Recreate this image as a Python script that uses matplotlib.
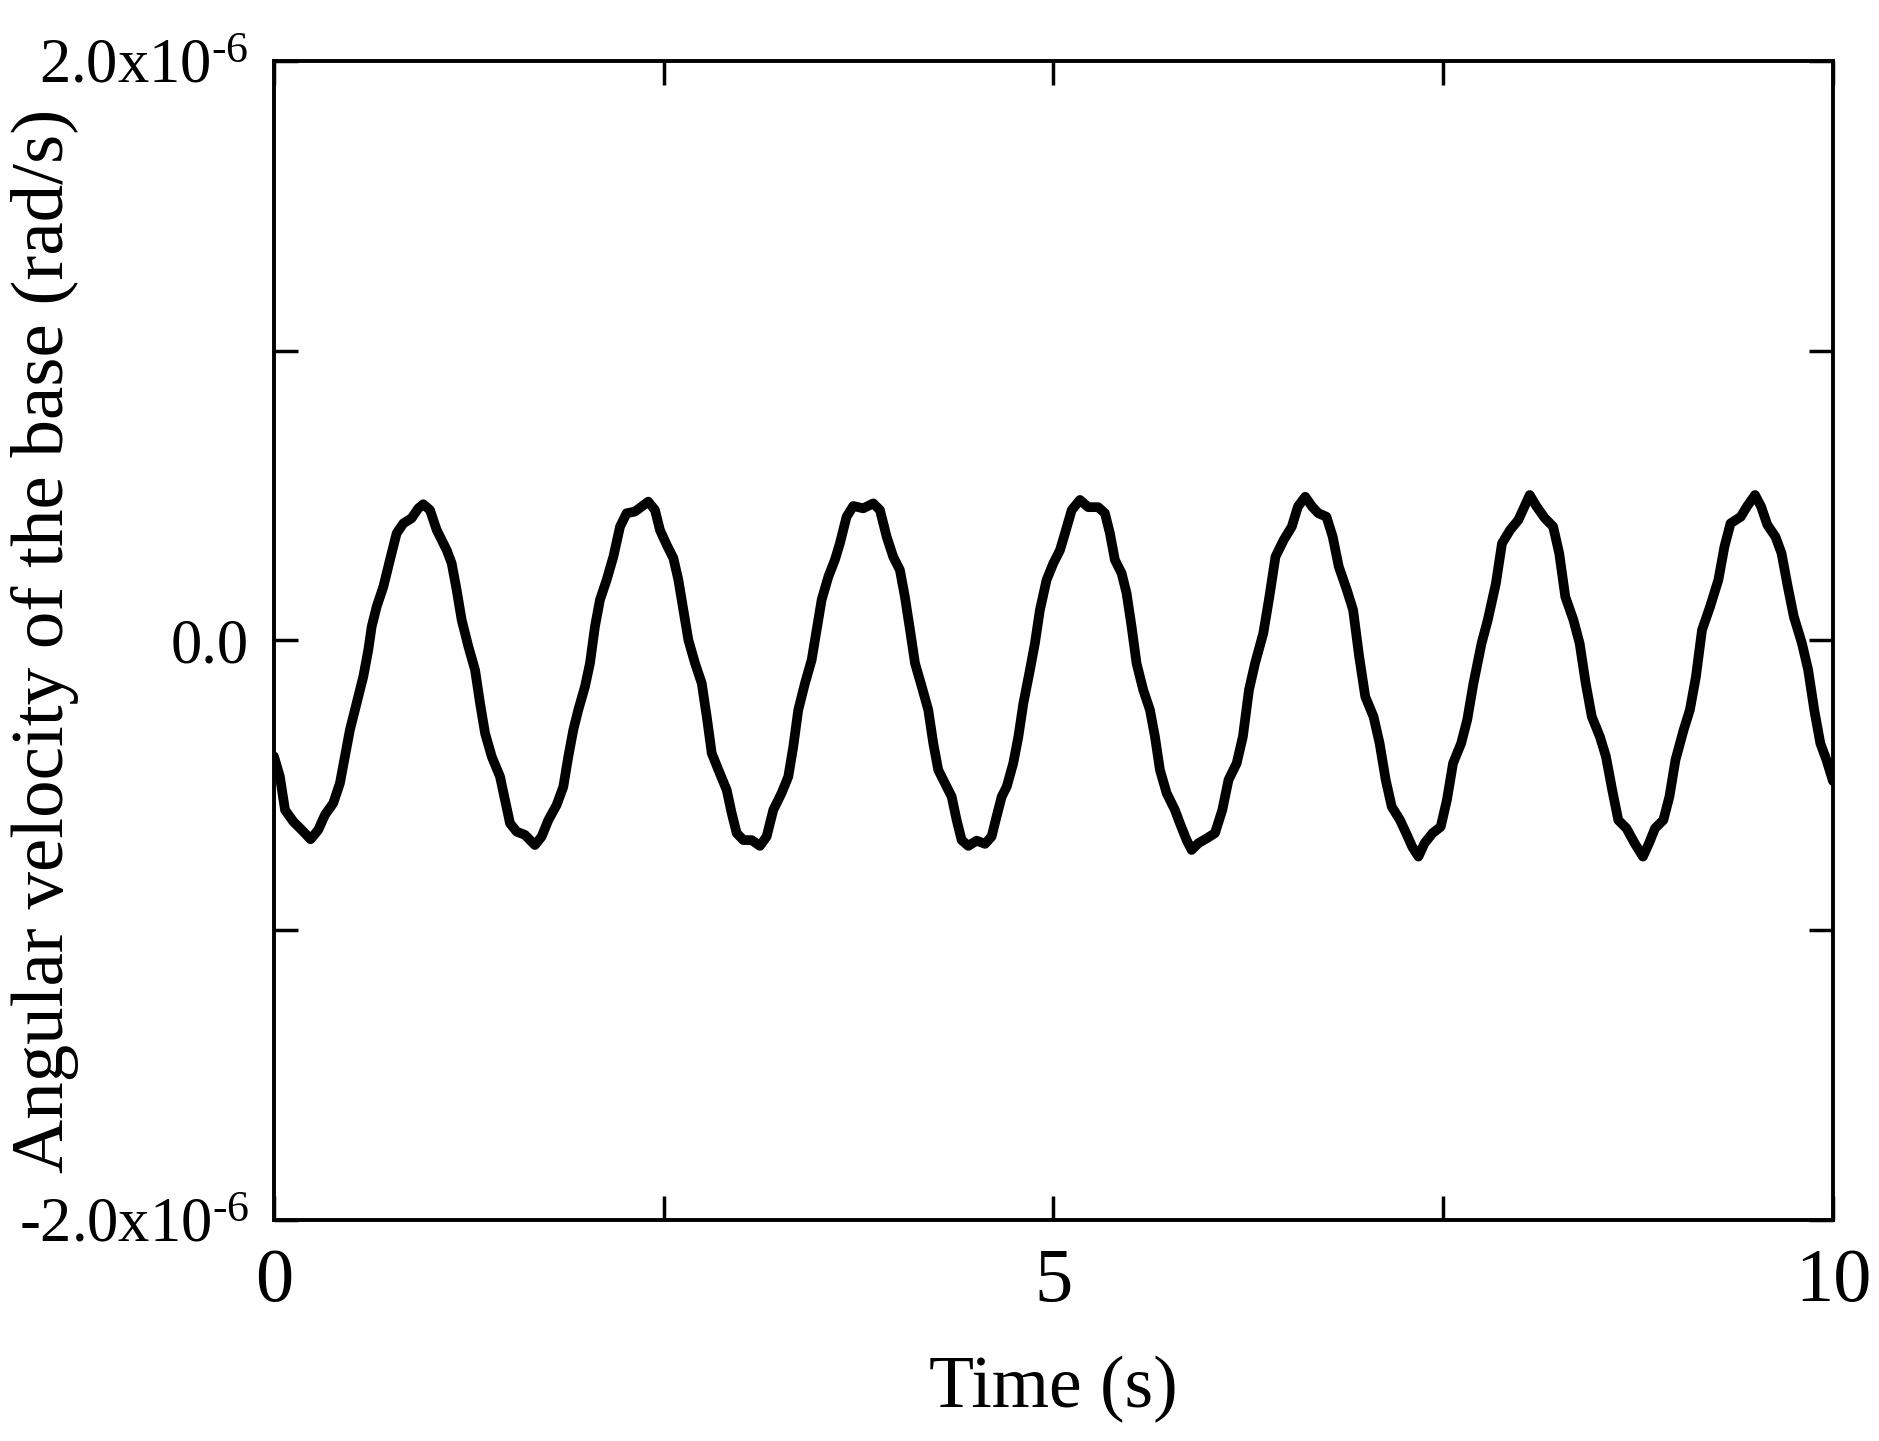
import numpy as np
import matplotlib
matplotlib.use('Agg')
import matplotlib.pyplot as plt

plt.rcParams['font.family'] = ['Liberation Serif', 'DejaVu Serif']
plt.rcParams['mathtext.fontset'] = 'custom'
plt.rcParams['mathtext.rm'] = 'Liberation Serif'
plt.rcParams['mathtext.default'] = 'regular'

# ── data (time in s, angular velocity in 1e-6 rad/s) ──
time_s = [
    0.000, 0.038, 0.071, 0.124, 0.178, 0.235, 0.284, 0.327, 0.380, 0.423,
    0.455, 0.487, 0.530, 0.573, 0.605, 0.627, 0.659, 0.702, 0.744, 0.787,
    0.830, 0.883, 0.926, 0.958, 1.001, 1.044, 1.108, 1.140, 1.172, 1.204,
    1.247, 1.290, 1.322, 1.354, 1.397, 1.450, 1.482, 1.514, 1.557, 1.610,
    1.674, 1.717, 1.760, 1.813, 1.856, 1.888, 1.920, 1.952, 1.995, 2.027,
    2.059, 2.091, 2.134, 2.177, 2.220, 2.262, 2.316, 2.359, 2.401, 2.444,
    2.476, 2.519, 2.562, 2.594, 2.626, 2.658, 2.701, 2.744, 2.776, 2.808,
    2.851, 2.904, 2.936, 2.968, 3.011,
    3.064, 3.117, 3.160, 3.203, 3.256, 3.299, 3.331, 3.363, 3.406, 3.449,
    3.481, 3.513, 3.556, 3.598, 3.630, 3.673, 3.716, 3.780, 3.844, 3.887,
    3.930, 3.972, 4.015, 4.047, 4.080, 4.112, 4.155, 4.197, 4.229, 4.261,
    4.304, 4.347, 4.379, 4.411, 4.454, 4.507, 4.561, 4.603, 4.635, 4.668,
    4.700, 4.742, 4.775, 4.807, 4.849, 4.881, 4.913, 4.956, 4.999, 5.042,
    5.074, 5.117, 5.170, 5.223, 5.287, 5.330, 5.362, 5.394, 5.437, 5.469,
    5.501, 5.533, 5.576, 5.619, 5.651, 5.683, 5.726, 5.779, 5.811, 5.854,
    5.886, 5.929, 5.983, 6.036,
    6.083, 6.123, 6.175, 6.215, 6.254, 6.293, 6.346, 6.385, 6.424, 6.477,
    6.529, 6.568, 6.615, 6.659, 6.699, 6.751, 6.791, 6.830, 6.882, 6.922,
    6.961, 7.000, 7.053, 7.092, 7.131, 7.170, 7.223, 7.262, 7.301, 7.341,
    7.380, 7.432, 7.484, 7.524, 7.563, 7.615, 7.654, 7.694, 7.746, 7.786,
    7.838, 7.877, 7.929, 7.982, 8.021, 8.055, 8.099, 8.152, 8.205, 8.244,
    8.283, 8.335, 8.375, 8.414, 8.453, 8.505, 8.544, 8.584, 8.623, 8.675,
    8.728, 8.781, 8.820, 8.859, 8.912, 8.951, 8.990, 9.042, 9.082, 9.121,
    9.160, 9.212, 9.265, 9.304, 9.343, 9.409, 9.448, 9.500, 9.539, 9.579,
    9.631, 9.670, 9.710, 9.749, 9.801, 9.841, 9.880, 9.919, 9.958, 10.000,
]
omega_e6 = [
    -0.400, -0.470, -0.585, -0.625, -0.654, -0.686, -0.654, -0.602, -0.562, -0.493,
    -0.401, -0.309, -0.217, -0.125, -0.033, 0.048, 0.117, 0.186, 0.278, 0.370,
    0.404, 0.422, 0.456, 0.470, 0.450, 0.381, 0.312, 0.266, 0.174, 0.071,
    -0.021, -0.102, -0.217, -0.320, -0.401, -0.470, -0.550, -0.631, -0.660, -0.671,
    -0.706, -0.677, -0.620, -0.568, -0.505, -0.401, -0.309, -0.240, -0.159, -0.079,
    0.048, 0.140, 0.209, 0.289, 0.393, 0.439, 0.445, 0.462, 0.479, 0.450,
    0.381, 0.330, 0.284, 0.209, 0.105, 0.002, -0.079, -0.148, -0.263, -0.389,
    -0.447, -0.516, -0.596, -0.665, -0.689,
    -0.689, -0.709, -0.677, -0.585, -0.527, -0.470, -0.367, -0.240, -0.148, -0.067,
    0.036, 0.140, 0.220, 0.278, 0.335, 0.427, 0.464, 0.456, 0.473, 0.450,
    0.358, 0.289, 0.243, 0.151, 0.036, -0.079, -0.159, -0.240, -0.355, -0.447,
    -0.493, -0.539, -0.620, -0.689, -0.709, -0.691, -0.702, -0.677, -0.608, -0.539,
    -0.505, -0.424, -0.332, -0.217, -0.102, -0.010, 0.105, 0.209, 0.266, 0.312,
    0.370, 0.450, 0.485, 0.460, 0.460, 0.439, 0.370, 0.278, 0.232, 0.163,
    0.048, -0.079, -0.171, -0.240, -0.332, -0.447, -0.527, -0.585, -0.631, -0.689,
    -0.723, -0.700, -0.683, -0.665,
    -0.585, -0.481, -0.424, -0.332, -0.171, -0.079, 0.025, 0.151, 0.289, 0.347,
    0.393, 0.462, 0.496, 0.462, 0.439, 0.427, 0.358, 0.255, 0.174, 0.105,
    -0.056, -0.194, -0.263, -0.355, -0.481, -0.574, -0.620, -0.665, -0.712, -0.746,
    -0.700, -0.665, -0.643, -0.550, -0.424, -0.355, -0.274, -0.148, -0.010, 0.071,
    0.197, 0.335, 0.381, 0.416, 0.462, 0.502, 0.462, 0.422, 0.393, 0.301,
    0.151, 0.071, -0.010, -0.148, -0.263, -0.332, -0.401, -0.516, -0.620, -0.648,
    -0.700, -0.746, -0.700, -0.648, -0.620, -0.539, -0.412, -0.309, -0.240, -0.125,
    0.036, 0.117, 0.209, 0.324, 0.404, 0.427, 0.462, 0.502, 0.462, 0.399,
    0.358, 0.301, 0.186, 0.082, -0.010, -0.102, -0.240, -0.355, -0.412, -0.485,
]

x_ticks = [0, 2.5, 5, 7.5, 10]
x_labels = ['0', '', '5', '', '10']
y_ticks = [-2e-6, -1e-6, 0.0, 1e-6, 2e-6]
y_labels = [r'-2.0x10$^{\text{-6}}$', '', '0.0', '', r'2.0x10$^{\text{-6}}$']

t = np.array(time_s)
w = np.array(omega_e6) * 1e-6

fig = plt.figure(figsize=(18.79, 14.41), dpi=100)
fig.patch.set_facecolor('white')
ax = fig.add_axes([0.1458, 0.1534, 0.8297, 0.8043])

ax.plot(t, w, color='black', lw=7, solid_joinstyle='round', solid_capstyle='round')

ax.set_xlim(0, 10)
ax.set_ylim(-2e-6, 2e-6)
ax.set_xticks(x_ticks)
ax.set_xticklabels(x_labels, fontsize=55)
ax.set_yticks(y_ticks)
ax.set_yticklabels(y_labels, fontsize=45)

ax.tick_params(direction='in', length=17, width=2.5, top=True, right=True)
ax.tick_params(axis='x', pad=20)
ax.tick_params(axis='y', pad=18)
for s in ax.spines.values():
    s.set_linewidth(2.8)

ax.set_xlabel('Time (s)', fontsize=53)
ax.xaxis.set_label_coords(0.5, -0.117)
ax.set_ylabel('Angular velocity of the base (rad/s)', fontsize=54)
ax.yaxis.set_label_coords(-0.125, 0.5)

fig.savefig('out.png', dpi=100, facecolor='white')
plt.close(fig)
